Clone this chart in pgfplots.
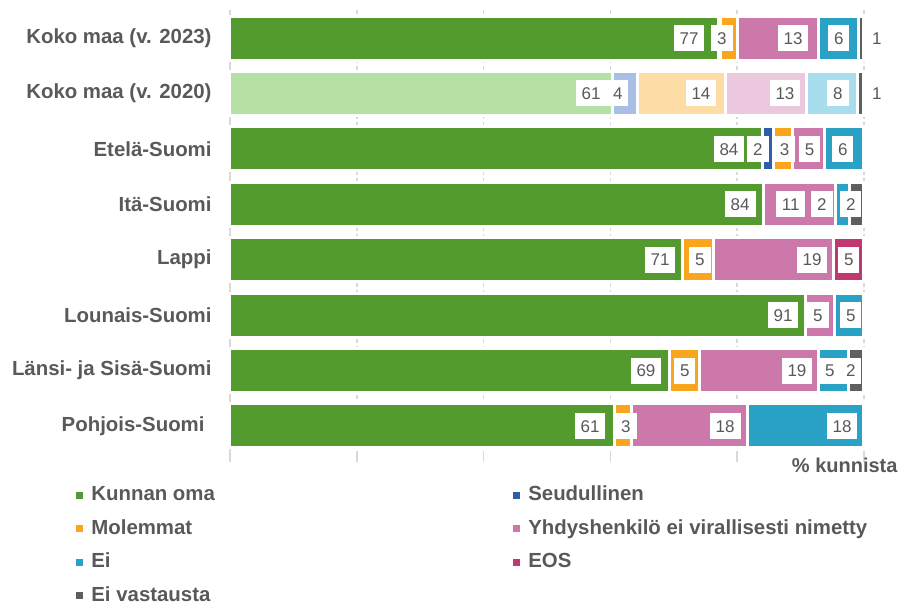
\documentclass[border=0pt]{standalone}
\usepackage{fontspec}
\setmainfont{Liberation Sans}
\usepackage{pgfplots}
\usepackage{pgfplotstable}
\pgfplotsset{compat=1.18}

\definecolor{cK}{HTML}{539B2F}
\definecolor{cS}{HTML}{2E5EAA}
\definecolor{cM}{HTML}{F9A51E}
\definecolor{cY}{HTML}{CC78AA}
\definecolor{cEi}{HTML}{29A2C5}
\definecolor{cEOS}{HTML}{C0386F}
\definecolor{cEV}{HTML}{5F5F5F}
\definecolor{lK}{HTML}{B6E1A4}
\definecolor{lS}{HTML}{A8BFE6}
\definecolor{lM}{HTML}{FEDCA5}
\definecolor{lY}{HTML}{EBC8DD}
\definecolor{lEi}{HTML}{A7DDEC}
\definecolor{txt}{HTML}{595959}
\definecolor{grd}{HTML}{D9D9D9}

% main rows: 0 = Koko maa 2023, 2..7 = regions
\pgfplotstableread{
y v lab dx op
0 77.0 77 -12.2 1
2 84.0 84 -16.6 1
3 84.2 84 -6.8 1
4 71.4 71 -5.7 1
5 90.8 91 -5.7 1
6 69.3 69 -6.4 1
7 60.6 61 -7.2 1
}\tK
\pgfplotstableread{
y v lab dx op
0 0.3 {} 0 0
2 1.7 2 -3.3 1
3 0 {} 0 0
4 0 {} 0 0
5 0 {} 0 0
6 0 {} 0 0
7 0 {} 0 0
}\tS
\pgfplotstableread{
y v lab dx op
0 2.8 3 -3.8 1
2 3.0 3 4.6 1
3 0 {} 0 0
4 4.9 5 -1.7 1
5 0 {} 0 0
6 4.7 5 -2.2 1
7 2.7 3 6.7 1
}\tM
\pgfplotstableread{
y v lab dx op
0 12.8 13 -9.0 1
2 5.0 5 -2.1 1
3 11.3 11 -28.5 1
4 18.9 19 -4.6 1
5 4.6 5 -4.8 1
6 18.8 19 -4.4 1
7 18.3 18 -5.3 1
}\tY
\pgfplotstableread{
y v lab dx op
0 6.2 6 -7.3 1
2 6.3 6 -9.0 1
3 2.2 2 -15.4 1
4 0 {} 0 0
5 4.6 5 -1.0 1
6 4.8 5 -6.8 1
7 18.4 18 -5.0 1
}\tEi
\pgfplotstableread{
y v lab dx op
0 0 {} 0 0
2 0 {} 0 0
3 0 {} 0 0
4 4.8 5 -3.0 1
5 0 {} 0 0
6 0 {} 0 0
7 0 {} 0 0
}\tEOS
\pgfplotstableread{
y v lab dx op
0 0.9 1 25 1
2 0 {} 0 0
3 2.3 2 -1.0 1
4 0 {} 0 0
5 0 {} 0 0
6 2.4 2 -1.0 1
7 0 {} 0 0
}\tEV
% Koko maa 2020 (row 1)
\pgfplotstableread{
y v lab dx op
1 60.4 61 -4.9 1
}\uK
\pgfplotstableread{
y v lab dx op
1 3.9 4 -7.7 1
}\uS
\pgfplotstableread{
y v lab dx op
1 13.8 14 -7.2 1
}\uM
\pgfplotstableread{
y v lab dx op
1 12.9 13 -5.0 1
}\uY
\pgfplotstableread{
y v lab dx op
1 7.9 8 -7.0 1
}\uEi
\pgfplotstableread{
y v lab dx op
1 1.1 1 25 1
}\uEV

\pgfplotsset{
  ser/.style={fill=#1, draw=white, line width=1.5pt,
    legend image code/.code={\draw[##1, draw=none, line width=0pt] (0pt,-1.75pt) rectangle (3.5pt,1.75pt);},
    nodes near coords, point meta=explicit symbolic,
    visualization depends on={\thisrow{dx}\as\lshift},
    visualization depends on={\thisrow{op}\as\lop},
    visualization depends on={\thisrow{v}\as\vv},
    every node near coord/.append style={anchor=east, xshift={(\lshift+\vv*3.17)*0.5pt}, opacity=\lop,
      fill=white, text=txt, font=\fontsize{8.5}{10}\selectfont, inner xsep=3pt, inner ysep=0pt,
      text height=6.2pt, text depth=0pt, minimum height=13pt}},
  common/.style={scale only axis, width=317pt, height=221.7pt,
    xmin=0, xmax=100, ymin=-0.5, ymax=7.5, y dir=reverse,
    xbar stacked, bar width=22pt, clip=false}
}

\begin{document}
\begin{tikzpicture}
\path[use as bounding box] (-115pt,-74.65pt) rectangle (336pt,226.85pt);
\begin{axis}[common,
  axis x line*=bottom, axis y line*=left,
  x axis line style={draw=none},
  y axis line style={draw=grd, line width=0.75pt},
  xtick={0,20,40,60,80,100}, xticklabels={},
  xmajorgrids, major grid style={draw=grd, line width=0.75pt, dash pattern=on 2pt off 1.5pt},
  xtick style={draw=grd, line width=0.75pt}, tick align=outside, major tick length=4pt,
  ytick={0,...,7}, ytick style={draw=none},
  yticklabels={Koko maa (v. 2023), Koko maa (v. 2020), Etelä-Suomi, Itä-Suomi, Lappi, Lounais-Suomi, Länsi- ja Sisä-Suomi, {Pohjois-Suomi\kern3.5pt}},
  yticklabel style={font=\fontsize{10.2}{12}\selectfont\bfseries, text=txt, xshift=-1.7pt},
  xlabel={\% kunnista},
  xlabel style={at={(axis description cs:1,0)}, anchor=base east, xshift=20.3pt, yshift=-9.2pt,
    font=\fontsize{10}{12}\selectfont\bfseries, text=txt},
  legend columns=2,
  legend style={at={(-0.2429,-0.0545)}, anchor=north west, draw=none, fill=none, inner sep=0pt,
    font=\fontsize{10.2}{12}\selectfont\bfseries, text=txt, legend cell align=left,
    nodes={inner sep=0pt, minimum height=16.75pt},
    /tikz/every odd column/.append style={column sep=4pt},
    /tikz/every even column/.append style={column sep=149.2pt}},
]
\addplot[ser=cK] table[x=v, y=y, meta=lab] {\tK};
\addlegendentry{Kunnan oma}
\addplot[ser=cS] table[x=v, y=y, meta=lab] {\tS};
\addlegendentry{Seudullinen}
\addplot[ser=cM] table[x=v, y=y, meta=lab] {\tM};
\addlegendentry{Molemmat}
\addplot[ser=cY] table[x=v, y=y, meta=lab] {\tY};
\addlegendentry{Yhdyshenkilö ei virallisesti nimetty}
\addplot[ser=cEi] table[x=v, y=y, meta=lab] {\tEi};
\addlegendentry{Ei}
\addplot[ser=cEOS] table[x=v, y=y, meta=lab] {\tEOS};
\addlegendentry{EOS}
\addplot[ser=cEV] table[x=v, y=y, meta=lab] {\tEV};
\addlegendentry{Ei vastausta}
\end{axis}
\begin{axis}[common, hide axis]
\addplot[ser=lK] table[x=v, y=y, meta=lab] {\uK};
\addplot[ser=lS] table[x=v, y=y, meta=lab] {\uS};
\addplot[ser=lM] table[x=v, y=y, meta=lab] {\uM};
\addplot[ser=lY] table[x=v, y=y, meta=lab] {\uY};
\addplot[ser=lEi] table[x=v, y=y, meta=lab] {\uEi};
\addplot[ser=cEV] table[x=v, y=y, meta=lab] {\uEV};
\end{axis}
\end{tikzpicture}
\end{document}
